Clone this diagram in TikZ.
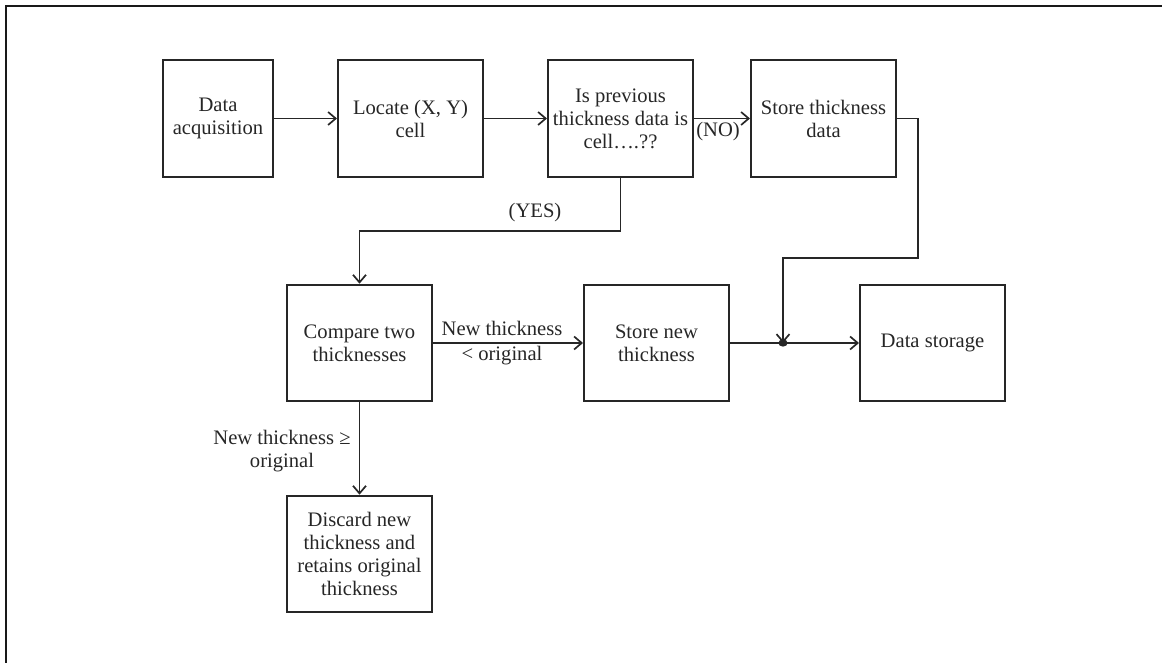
\documentclass[tikz,border=0pt]{standalone}
\usepackage{fontspec}
\setmainfont{Liberation Serif}
\usetikzlibrary{arrows.meta}
\begin{document}
\begin{tikzpicture}[x=0.5pt,y=-0.5pt,
  every node/.style={font=\fontsize{10.3}{11.5}\selectfont, text=black!85},
  block/.style={draw=black!85, line width=1pt, align=center, inner sep=2pt,
    minimum width=72.5pt, minimum height=58.3pt},
  arr/.style={draw=black!85, line width=0.85pt, -{Straight Barb[length=3.8pt,width=6.5pt]}},
  link/.style={draw=black!85, line width=0.85pt},
  lbl/.style={align=center, inner sep=0pt}]
  % page extent and frame
  \useasboundingbox (0,0) rectangle (1162,663);
  \draw[line width=1pt, black!90] (6,663) -- (6,6) -- (1162,6);

  % top row
  \node[block, minimum width=55pt] (acq) at (218,118.5) {Data\\acquisition};
  \node[block] (loc) at (410.5,118.5) {Locate (X, Y)\\cell};
  \node[block] (prev) at (620.5,118.5) {Is previous\\thickness data is\\cell….??};
  \node[block] (sth) at (823.5,118.5) {Store thickness\\data};

  % middle row
  \node[block] (cmp) at (359.5,343) {Compare two\\thicknesses};
  \node[block] (snew) at (656.5,343) {Store new\\thickness};
  \node[block] (dst) at (932.5,343) {Data storage};

  % bottom
  \node[block] (dis) at (359.5,554) {Discard new\\thickness and\\retains original\\thickness};

  % routing points
  \coordinate (turn) at (918,258);
  \coordinate (join) at (783,343);
  \coordinate (yesturn) at (359.5,231);

  % connectors
  \draw[arr] (acq) -- (loc);
  \draw[arr] (loc) -- (prev);
  \draw[arr] (prev) -- (sth);
  \draw[arr] (sth.east) -| (turn) -| (join);
  \draw[arr] (prev.south) |- (yesturn) -- (cmp.north);
  \draw[arr] (cmp) -- (snew);
  \draw[link] (snew.east) -- (join);
  \draw[arr] (join) -- (dst);
  \draw[arr] (cmp.south) -- (dis.north);
  \fill[black!85] (join) ellipse (2.3pt and 1.8pt);

  % labels
  \node[lbl] (lno) at (718,132) {(NO)};
  \node[lbl] (lyes) at (535,213) {(YES)};
  \node[lbl] (llt) at (502,343) {New thickness\\[1pt]< original};
  \node[lbl] (lge) at (282,451) {New thickness ≥\\original};
\end{tikzpicture}
\end{document}
